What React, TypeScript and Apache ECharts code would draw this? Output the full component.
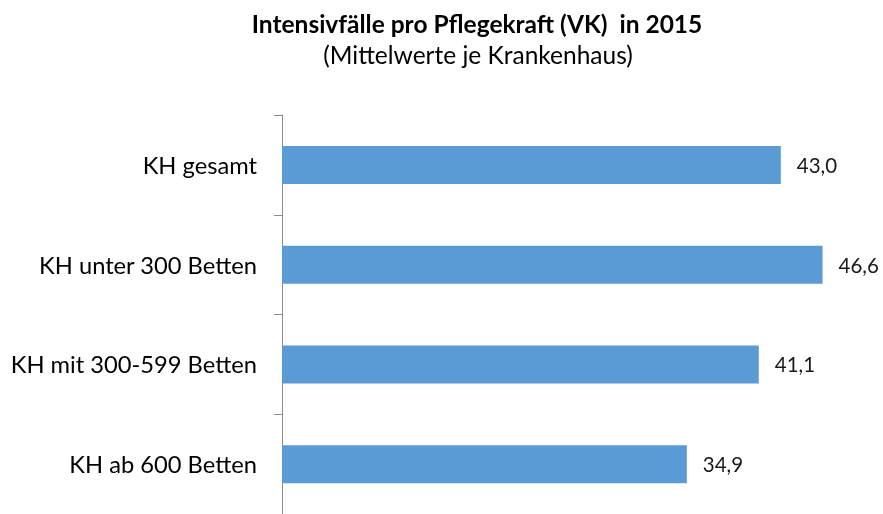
import React, { useEffect, useRef } from "react";
import * as echarts from "echarts";

const categories = ["KH gesamt", "KH unter 300 Betten", "KH mit 300-599 Betten", "KH ab 600 Betten"];
const values = [43.0, 46.6, 41.1, 34.9];
const titleText = "Intensivfälle pro Pflegekraft (VK)  in 2015";
const subtitleText = "(Mittelwerte je Krankenhaus)";

const FONT = "Lato, 'Open Sans', sans-serif";

export default function App() {
  const ref = useRef<HTMLDivElement>(null);
  useEffect(() => {
    const chart = echarts.init(ref.current!, null, { renderer: "svg" });
    chart.setOption({
      animation: false,
      title: [
        {
          text: titleText,
          left: 472,
          top: 6,
          textAlign: "center",
          textStyle: { fontFamily: FONT, fontSize: 24.5, fontWeight: "bold", color: "#000" },
        },
        {
          text: subtitleText,
          left: 473,
          top: 37,
          textAlign: "center",
          textStyle: { fontFamily: FONT, fontSize: 24.5, fontWeight: "normal", color: "#000" },
        },
      ],
      grid: { left: 282, top: 115, width: 580, height: 401, containLabel: false },
      xAxis: {
        type: "value",
        min: 0,
        max: 50,
        show: false,
      },
      yAxis: {
        type: "category",
        data: categories,
        inverse: true,
        axisLine: { show: true, lineStyle: { color: "#8c8c8c", width: 1 } },
        axisTick: { show: true, length: 8, lineStyle: { color: "#8c8c8c" } },
        axisLabel: { margin: 25, fontFamily: FONT, fontSize: 23.7, color: "#000" },
      },
      series: [
        {
          type: "bar",
          data: values,
          barWidth: 38,
          itemStyle: { color: "#5b9bd5" },
          label: {
            show: true,
            position: "right",
            distance: 16,
            fontFamily: FONT,
            fontSize: 20.5,
            color: "#1a1a1a",
            formatter: (p: any) => p.value.toFixed(1).replace(".", ","),
          },
        },
      ],
    });
    return () => chart.dispose();
  }, []);
  return <div ref={ref} style={{ position: "fixed", left: 0, top: 0, width: 883, height: 514 }} />;
}
